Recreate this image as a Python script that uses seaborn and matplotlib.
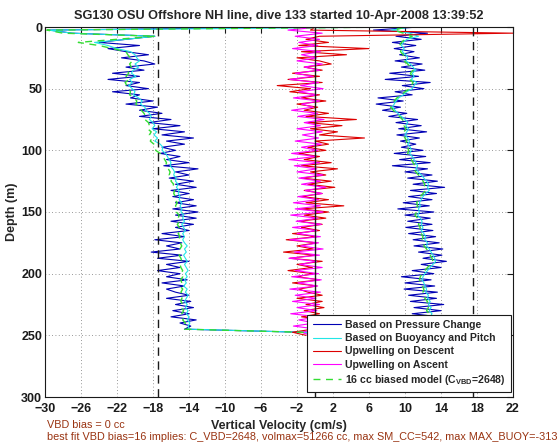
import matplotlib
matplotlib.use('Agg')
import matplotlib.pyplot as plt
import seaborn as sns
import numpy as np

# vertical velocity (cm/s) sampled every 2.5 m of depth, 0 .. 250 m
blue_dn = [
    -0.5, -29.5, -27.0, -17.8, -21.0, -24.0, -19.5, -23.0, -21.0, -18.5,
    -21.5, -19.0, -17.8, -21.0, -19.0, -22.5, -19.5, -23.0, -19.5, -21.0,
    -18.5, -22.5, -19.5, -20.5, -18.0, -21.0, -17.5, -19.5, -17.0, -19.5,
    -16.0, -18.5, -15.0, -18.0, -14.5, -17.0, -13.5, -16.5, -14.5, -17.0,
    -15.5, -17.2, -15.0, -16.5, -14.0, -16.8, -13.0, -15.5, -14.0, -16.2,
    -13.5, -15.5, -13.2, -16.0, -14.0, -15.8, -13.5, -15.5, -13.2, -15.8,
    -13.0, -15.5, -13.2, -16.0, -13.5, -15.5, -14.0, -17.0, -14.5, -17.8,
    -14.8, -16.5, -15.0, -18.2, -14.8, -17.5, -14.0, -16.5, -15.0, -17.5,
    -15.0, -16.5, -14.2, -17.0, -14.5, -16.5, -15.5, -14.0, -16.5, -13.8,
    -15.5, -13.5, -15.8, -14.0, -16.0, -13.2, -15.0, -13.8, -14.5, -1.5,
    3.0]
cyan_dn = [
    9.5, -29.7, -27.0, -17.8, -21.0, -24.5, -23.0, -22.0, -20.5, -20.0,
    -19.8, -19.5, -20.0, -19.6, -20.2, -20.4, -19.9, -20.6, -20.3, -20.7,
    -20.3, -20.0, -20.2, -19.6, -19.2, -19.4, -18.9, -18.8, -18.4, -18.2,
    -18.4, -18.0, -17.8, -18.1, -17.6, -17.9, -17.5, -17.8, -17.2, -16.9,
    -17.0, -16.6, -16.4, -16.2, -16.0, -16.1, -15.8, -15.6, -15.7, -15.4,
    -15.5, -15.2, -15.4, -15.1, -15.2, -15.0, -15.1, -14.8, -15.0, -14.8,
    -14.9, -14.6, -14.7, -14.5, -14.8, -14.6, -14.4, -14.7, -14.5, -14.7,
    -14.5, -14.2, -14.5, -14.3, -14.6, -14.4, -14.2, -14.5, -14.3, -14.1,
    -14.4, -14.2, -14.5, -14.3, -14.6, -14.2, -14.4, -14.1, -14.3, -14.5,
    -14.2, -14.4, -14.1, -14.3, -14.0, -14.2, -13.9, -14.1, -14.0, -1.5,
    4.0]
green_dn = [
    9.5, -29.8, -28.0, -17.8, -22.0, -26.3, -24.0, -22.5, -21.0, -20.8,
    -20.5, -20.3, -20.6, -20.4, -20.8, -20.7, -21.0, -20.6, -21.1, -20.9,
    -20.7, -20.5, -20.6, -20.1, -19.8, -19.9, -19.5, -19.3, -19.0, -18.8,
    -18.9, -18.5, -18.4, -18.6, -18.2, -18.4, -18.1, -18.3, -17.9, -17.7,
    -17.7, -17.2, -16.9, -16.7, -16.5, -16.6, -16.3, -16.1, -16.2, -15.9,
    -16.0, -15.7, -15.9, -15.6, -15.7, -15.5, -15.6, -15.3, -15.5, -15.3,
    -15.4, -15.1, -15.2, -15.0, -15.3, -15.1, -14.9, -15.2, -15.0, -15.2,
    -15.0, -14.8, -15.0, -14.9, -15.1, -14.9, -14.8, -15.0, -14.9, -14.7,
    -14.9, -14.7, -14.9, -14.8, -15.0, -14.7, -14.9, -14.6, -14.8, -14.9,
    -14.7, -14.9, -14.6, -14.8, -14.5, -14.7, -14.4, -14.6, -14.5, -1.5,
    4.0]
red_dn = [
    0.0, -0.5, 22.0, 0.5, -1.0, 1.5, -1.8, 6.0, -1.5, 3.5,
    -2.0, 0.5, 1.8, -1.2, 0.8, -2.5, 0.5, -3.0, 0.8, -4.2,
    -0.5, -2.8, 0.5, -1.5, 1.2, -2.0, 0.3, -1.2, 1.5, -1.0,
    4.6, -0.8, 3.0, -0.5, 2.5, 0.5, 5.5, 0.0, 1.5, -0.8,
    1.2, -1.8, 0.5, -1.2, 1.8, -1.5, 2.5, -0.5, 1.2, -1.5,
    1.8, -0.8, 2.2, -1.2, 0.8, -1.5, 1.5, -1.0, 3.2, -1.5,
    1.5, -1.2, 1.2, -1.8, 0.8, -1.5, 0.5, -2.5, 0.2, -3.2,
    0.2, -2.0, -0.2, -3.5, 0.0, -2.8, 0.8, -2.0, -0.3, -3.0,
    -0.2, -2.0, 0.5, -2.5, 0.2, -1.8, -0.8, 0.8, -2.0, 0.8,
    -1.0, 1.0, -1.2, 0.5, -1.5, 1.2, -0.8, 0.5, -0.3, -2.5,
    -1.0]

blue_up = [
    11.5, 6.5, 12.5, 9.0, 11.8, 8.6, 11.2, 8.8, 11.0, 9.4,
    11.6, 8.9, 11.9, 9.6, 12.2, 8.3, 11.5, 7.8, 12.8, 9.7,
    12.1, 8.9, 10.8, 7.0, 9.8, 6.8, 9.5, 7.5, 10.2, 8.2,
    11.4, 9.0, 11.8, 9.3, 12.4, 9.1, 11.6, 9.5, 11.2, 9.6,
    12.0, 8.8, 12.3, 9.4, 12.8, 8.6, 12.5, 10.0, 13.0, 10.3,
    13.6, 10.9, 14.4, 10.6, 13.5, 10.4, 13.0, 9.8, 12.7, 9.2,
    13.2, 10.0, 12.8, 10.3, 13.0, 10.1, 13.1, 10.4, 13.4, 10.9,
    13.8, 11.0, 14.2, 11.5, 14.1, 12.0, 14.6, 11.8, 14.0, 10.8,
    13.2, 9.6, 12.9, 10.0, 13.3, 9.9, 13.6, 10.4, 13.5, 10.6,
    14.3, 11.0, 14.0, 10.8, 13.8, 11.2, 14.0, 11.0, 13.6, 11.5,
    3.0]
cyan_up = [
    10.5, 8.5, 10.5, 11.5, 10.2, 9.8, 9.6, 9.9, 9.7, 10.1,
    10.3, 10.1, 10.6, 10.9, 11.2, 10.8, 11.0, 10.7, 11.3, 11.0,
    10.8, 10.2, 9.8, 9.3, 9.0, 8.8, 8.6, 8.9, 9.2, 9.6,
    10.0, 10.3, 10.1, 10.4, 10.2, 10.0, 10.3, 10.5, 10.3, 10.6,
    10.7, 10.5, 10.8, 11.0, 11.2, 11.4, 11.2, 11.5, 11.8, 12.1,
    12.4, 12.6, 12.5, 12.7, 12.3, 12.0, 11.8, 11.6, 11.7, 11.5,
    11.6, 11.4, 11.7, 11.9, 11.8, 12.0, 11.8, 12.1, 12.3, 12.2,
    12.5, 12.4, 12.7, 12.9, 13.1, 13.3, 13.4, 13.1, 12.8, 12.5,
    12.2, 12.0, 11.9, 12.1, 12.2, 12.4, 12.3, 12.6, 12.5, 12.8,
    12.6, 12.9, 12.7, 13.0, 12.8, 12.6, 12.9, 12.7, 12.5, 12.4,
    4.0]
green_up = [
    10.0, 8.8, 9.8, 10.8, 10.0, 9.6, 9.4, 9.6, 9.5, 9.8,
    10.0, 9.9, 10.3, 10.6, 10.9, 10.6, 10.8, 10.5, 10.9, 10.7,
    10.5, 10.0, 9.6, 9.1, 8.8, 8.6, 8.4, 8.7, 9.0, 9.4,
    9.7, 10.0, 9.9, 10.1, 9.9, 9.8, 10.0, 10.2, 10.1, 10.3,
    10.4, 10.3, 10.5, 10.7, 10.9, 11.1, 11.0, 11.2, 11.5, 11.8,
    12.0, 12.2, 12.1, 12.3, 12.0, 11.7, 11.5, 11.3, 11.4, 11.2,
    11.3, 11.1, 11.4, 11.6, 11.5, 11.7, 11.5, 11.8, 12.0, 11.9,
    12.2, 12.1, 12.4, 12.6, 12.8, 13.0, 13.1, 12.8, 12.5, 12.2,
    11.9, 11.7, 11.6, 11.8, 11.9, 12.1, 12.0, 12.3, 12.2, 12.5,
    12.3, 12.6, 12.4, 12.7, 12.5, 12.3, 12.6, 12.4, 12.2, 12.1,
    4.0]
magenta_up = [
    0.5, -3.0, 0.8, -2.2, 0.5, -1.8, 0.3, -2.5, 0.6, -1.5,
    0.2, -2.0, 0.8, -1.2, 0.5, -2.2, -0.2, -2.8, 0.4, -1.6,
    0.9, -1.8, 0.2, -2.4, 0.5, -1.5, -0.2, -2.6, 0.3, -1.9,
    1.0, -1.2, 0.6, -2.0, 0.8, -1.4, 0.4, -2.2, 0.7, -1.5,
    0.3, -2.6, 0.1, -2.9, 0.5, -2.3, 0.2, -2.0, 0.9, -1.8,
    0.6, -1.5, 1.2, -1.1, 0.8, -1.9, 0.4, -2.4, 0.6, -2.2,
    0.9, -2.7, 0.3, -2.1, 0.7, -2.5, 0.2, -2.0, 0.6, -2.8,
    0.4, -1.6, 0.9, -2.3, 0.5, -2.9, 0.2, -1.7, 0.8, -2.2,
    0.4, -2.6, 0.7, -1.9, 0.3, -2.8, 0.6, -2.2, 0.1, -2.5,
    0.5, -2.0, 0.2, -2.7, 0.4, -1.8, 0.0, -2.4, 0.3, -1.5,
    -0.5]

depth = np.arange(len(blue_dn)) * 2.5
# the ascent is drawn from the bottom up
depth_up = depth[::-1]

legend_labels = ["Based on Pressure Change", "Based on Buoyancy and Pitch",
                 "Upwelling on Descent", "Upwelling on Ascent",
                 r"16 cc biased model (C$_{\mathbf{VBD}}$=2648)"]
x_ticks = [-30, -26, -22, -18, -14, -10, -6, -2, 2, 6, 10, 14, 18, 22]
y_ticks = [0, 50, 100, 150, 200, 250, 300]

sns.set_theme(style="white")
plt.rcParams['font.family'] = ['Liberation Sans', 'DejaVu Sans']
plt.rcParams['font.weight'] = 'bold'
plt.rcParams['mathtext.fontset'] = 'custom'
plt.rcParams['mathtext.rm'] = 'Liberation Sans:bold'
plt.rcParams['mathtext.bf'] = 'Liberation Sans:bold'
plt.rcParams['axes.unicode_minus'] = True

BLUE = '#0000b4'
CYAN = '#22e6e6'
RED = '#dd0000'
MAGENTA = '#ff00ff'
GREEN = '#33dd33'

fig = plt.figure(figsize=(5.6, 4.42), dpi=100)
ax = fig.add_axes([45 / 560, 1 - 397 / 442, 468 / 560, 370 / 442])

lw = 0.8
kw = dict(sort=False, estimator=None, ax=ax, linewidth=lw)
sns.lineplot(x=blue_dn + blue_up[::-1], y=np.concatenate([depth, depth_up]),
             color=BLUE, label=legend_labels[0], **kw)
sns.lineplot(x=cyan_dn + cyan_up[::-1], y=np.concatenate([depth, depth_up]),
             color=CYAN, label=legend_labels[1], **kw)
sns.lineplot(x=red_dn, y=depth, color=RED, label=legend_labels[2], **kw)
sns.lineplot(x=magenta_up[::-1], y=depth_up, color=MAGENTA,
             label=legend_labels[3], **kw)
sns.lineplot(x=green_dn + green_up[::-1], y=np.concatenate([depth, depth_up]),
             color=GREEN, label=legend_labels[4], linestyle=(0, (5, 4)),
             sort=False, estimator=None, ax=ax, linewidth=1.0)

ax.axvline(-17.5, color='k', linestyle=(0, (6, 4)), linewidth=1.0, zorder=5)
ax.axvline(17.5, color='k', linestyle=(0, (6, 4)), linewidth=1.0, zorder=5)
ax.axvline(0, color='k', linewidth=1.0, zorder=5)

ax.set_xlim(-30, 22)
ax.set_ylim(300, 0)
ax.set_xticks(x_ticks)
ax.set_yticks(y_ticks)
ax.grid(True, linestyle=(0, (1, 3)), color='#777777', linewidth=0.6)
ax.tick_params(direction='in', top=True, right=True, length=4, width=0.8,
               labelsize=9, colors='k')
ax.tick_params(axis='x', pad=4)
ax.tick_params(axis='y', pad=2)
for sp in ax.spines.values():
    sp.set_color('k')
    sp.set_linewidth(0.8)

ax.set_xlabel("Vertical Velocity (cm/s)", fontsize=9, fontweight='bold', labelpad=4)
ax.set_ylabel("Depth (m)", fontsize=9, fontweight='bold', labelpad=2)
ax.set_title("SG130 OSU Offshore NH line, dive 133 started 10-Apr-2008 13:39:52",
             fontsize=9.2, fontweight='bold', pad=6)

leg = ax.legend(loc='lower right', bbox_to_anchor=(0.996, 0.0135), borderaxespad=0,
                fontsize=7.6, frameon=True, fancybox=False, framealpha=1,
                edgecolor='k', handlelength=2.7, handletextpad=0.4,
                labelspacing=0.3, borderpad=0.5)
leg.get_frame().set_linewidth(0.8)

fig.text(47 / 560, 1 - 425 / 442, "VBD bias = 0 cc", color='#993311',
         fontsize=7.8, fontweight='normal', va='center')
fig.text(47 / 560, 1 - 437 / 442,
         "best fit VBD bias=16 implies: C_VBD=2648, volmax=51266 cc, "
         "max SM_CC=542, max MAX_BUOY=-313",
         color='#993311', fontsize=7.8, fontweight='normal', va='center')

fig.savefig("out.png", dpi=100)
